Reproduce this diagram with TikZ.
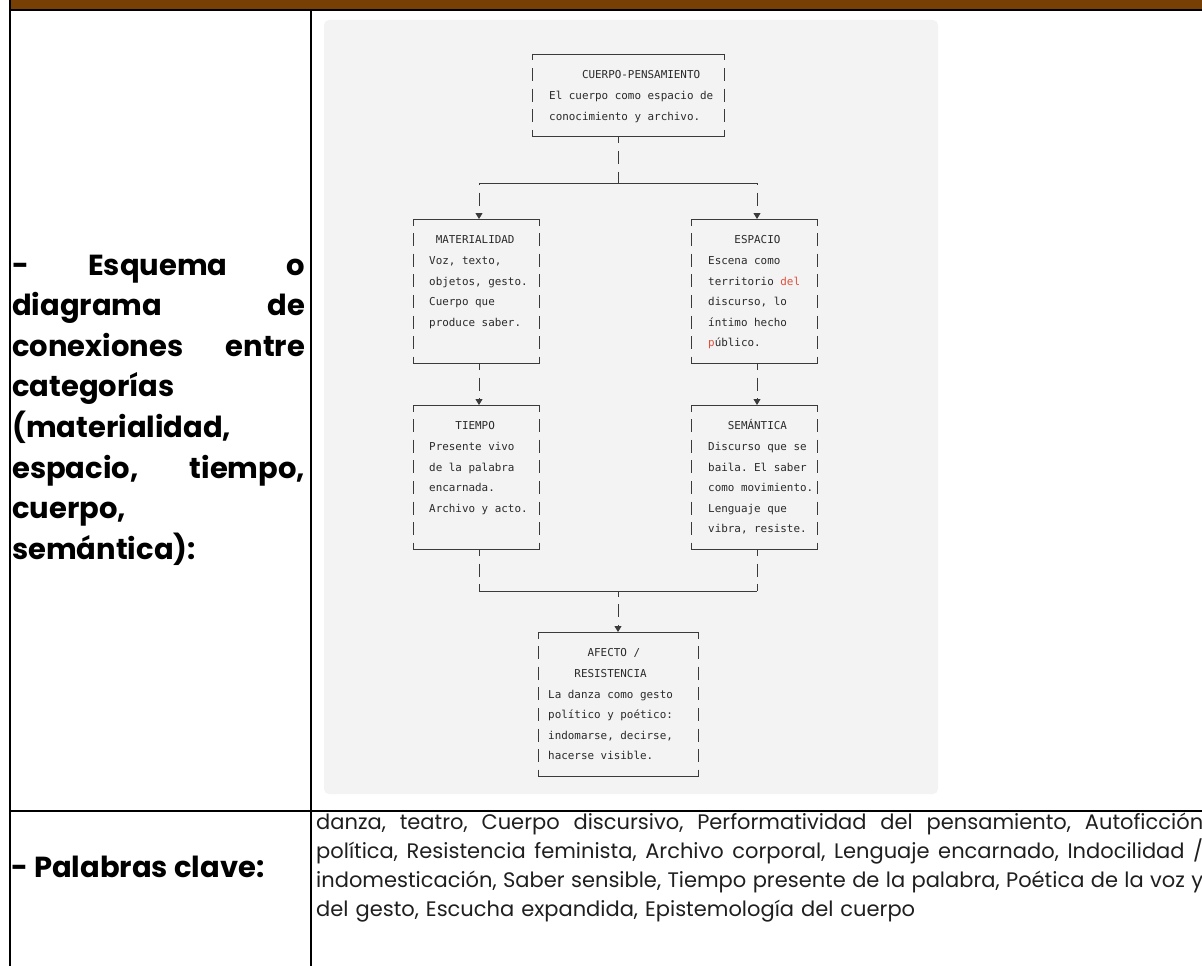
\documentclass[tikz,border=0pt]{standalone}
\usepackage{fontspec}
\setmainfont{Poppins}
\setmonofont{DejaVu Sans Mono}
\usetikzlibrary{arrows.meta}

\definecolor{headbrown}{HTML}{783F04}
\definecolor{panelgray}{HTML}{F3F3F3}
\definecolor{inkgray}{HTML}{2A2A2A}
\definecolor{linegray}{HTML}{3A3A3A}
\definecolor{spellred}{HTML}{E0503C}

% indent by n monospace characters
\newcommand{\ind}[1]{\hspace*{#1\fontcharwd\font`x}}
\newcommand{\hl}[1]{\textcolor{spellred}{#1}}
% justified line of given width
\newcommand{\jline}[2]{\leavevmode\hbox to #1{\frenchspacing\spaceskip=\fontdimen2\font plus 1fil\relax #2}}
\newcommand{\tabhead}{\bfseries\fontsize{29}{40.6}\selectfont}
\newcommand{\kwfont}{\fontsize{21}{29}\selectfont}

\begin{document}
\begin{tikzpicture}[x=1pt, y=-1pt,
  catbox/.style 2 args={anchor=north west, inner xsep=0pt, inner ysep=10.3pt,
    text width=#1, align=left, text=inkgray,
    font=\ttfamily\fontsize{10.9}{20.6}\selectfont,
    execute at begin node={\leftskip=#2\relax\spaceskip=\fontcharwd\font`x\relax\xspaceskip=\spaceskip\strut},
    execute at end node={\strut}},
  rail/.style={draw=linegray, line width=0.9pt},
  side/.style={draw=linegray, line width=0.9pt, dash pattern=on 13pt off 7.6pt, dash phase=6.5pt},
  link/.style={draw=linegray, line width=0.9pt, dash pattern=on 13pt off 7.6pt, dash phase=#1},
  link/.default=6.5pt,
  arrowtip/.style={-{Triangle[width=7pt,length=6pt]}},
  tablerule/.style={draw=black, line width=2pt}]

\useasboundingbox (0,0) rectangle (1202,966);
\clip (0,0) rectangle (1202,966);

% header bar and table rules
\fill[headbrown] (10,0) rectangle (1202,10);
\draw[tablerule] (10,0) -- (10,966);
\draw[tablerule] (10,10.5) -- (1202,10.5);
\draw[tablerule] (311,10) -- (311,966);
\draw[tablerule] (10,811) -- (1202,811);

% gray panel behind the scheme
\fill[panelgray, rounded corners=5pt] (324,20) rectangle (938,794);

% left column labels
\node[anchor=base west, inner sep=0pt, text width=293pt, align=left, font=\tabhead] (lbl) at (12,275)
  {\jline{293pt}{- Esquema o}\\
   \jline{293pt}{diagrama de}\\
   \jline{293pt}{conexiones entre}\\
   categorías\\
   (materialidad,\\
   \jline{293pt}{espacio, tiempo,}\\
   cuerpo,\\
   semántica):};
\node[anchor=base west, inner sep=0pt, font=\tabhead] (kwlbl) at (11,877) {- Palabras clave:};

% keywords
\node[anchor=base west, inner sep=0pt, text width=900pt, align=left, font=\kwfont, text=black!88] (kw) at (316,829)
  {\jline{887pt}{danza, teatro, Cuerpo discursivo, Performatividad del pensamiento, Autoficción}\\
   \jline{887pt}{política, Resistencia feminista, Archivo corporal, Lenguaje encarnado, Indocilidad /}\\
   \jline{887pt}{indomesticación, Saber sensible, Tiempo presente de la palabra, Poética de la voz y}\\
   del gesto, Escucha expandida, Epistemología del cuerpo};

% category boxes
\node[catbox={192pt}{17pt}] (cp) at (532,54)
  {\ind{5}CUERPO-PENSAMIENTO\\El cuerpo como espacio de\\conocimiento y archivo.};
\node[catbox={126pt}{16pt}] (mat) at (413,219)
  {\ind{1}MATERIALIDAD\\Voz, texto,\\objetos, gesto.\\Cuerpo que\\produce saber.\\\mbox{}};
\node[catbox={126pt}{17pt}] (esp) at (691,219)
  {\ind{4}ESPACIO\\Escena como\\territorio \hl{del}\\discurso, lo\\íntimo hecho\\\hl{p}úblico.};
\node[catbox={126pt}{16pt}] (tie) at (413,405)
  {\ind{4}TIEMPO\\Presente vivo\\de la palabra\\encarnada.\\Archivo y acto.\\\mbox{}};
\node[catbox={126pt}{17pt}] (sem) at (691,405)
  {\ind{3}SEMÁNTICA\\Discurso que se\\baila. El saber\\como movimiento.\\Lenguaje que\\vibra, resiste.};
\node[catbox={160pt}{10pt}] (afe) at (538,632)
  {\ind{6}AFECTO /\\\ind{4}RESISTENCIA\\La danza como gesto\\político y poético:\\indomarse, decirse,\\hacerse visible.};

% box outlines
\foreach \b in {cp,mat,esp,tie,sem,afe}{
  \draw[rail] (\b.north west) -- (\b.north east);
  \draw[rail] (\b.south west) -- (\b.south east);
  \draw[side] (\b.north west) -- (\b.south west);
  \draw[side] (\b.north east) -- (\b.south east);
}

% junctions
\coordinate (jt) at (618,183);
\coordinate (jtl) at (479,183);
\coordinate (jtr) at (757,183);
\coordinate (jb) at (618,591);
\coordinate (jbl) at (479,591);
\coordinate (jbr) at (757,591);

% connectors
\draw[link] (jt |- cp.south) -- (jt);
\draw[rail] (jtl) -- (jtr);
\draw[link=11pt, arrowtip] (jtl) -- (jtl |- mat.north);
\draw[link=11pt, arrowtip] (jtr) -- (jtr |- esp.north);
\draw[link, arrowtip] (jtl |- mat.south) -- (jtl |- tie.north);
\draw[link, arrowtip] (jtr |- esp.south) -- (jtr |- sem.north);
\draw[link] (jbl |- tie.south) -- (jbl);
\draw[link] (jbr |- sem.south) -- (jbr);
\draw[rail] (jbl) -- (jbr);
\draw[link=7.5pt, arrowtip] (jb) -- (jb |- afe.north);

\end{tikzpicture}
\end{document}
